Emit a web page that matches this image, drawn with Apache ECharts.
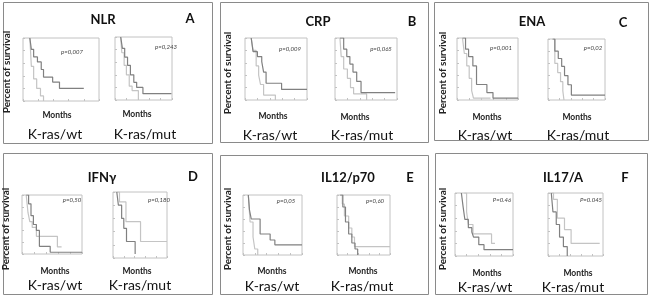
<!DOCTYPE html>
<html>
<head>
<meta charset="utf-8">
<script src="https://cdn.jsdelivr.net/npm/echarts@6/dist/echarts.min.js"></script>
<style>
  html, body { margin: 0; padding: 0; background: #fff; }
  #chart { width: 650px; height: 295px; }
</style>
</head>
<body>
<div id="chart"></div>
<script>
// Données : [mois (échelle 0-100), % de survie]
const nlrWtDark = [[9,100],[11,82],[14,70],[19,62],[24,50],[27,38],[39,30],[48,20],[80,20]];
const nlrWtLight = [[9,100],[11,55],[14,35],[18,20],[23,8],[27,0]];
const nlrMutDark = [[10,100],[13,82],[17,68],[22,55],[27,40],[33,28],[38,20],[49,10],[99,10]];
const nlrMutLight = [[10,100],[12,75],[16,55],[20,40],[25,22],[30,15],[41,0]];

const crpWtDark = [[10,100],[13,78],[20,70],[27,62],[30,45],[34,27],[59,17],[100,17]];
const crpWtLight = [[10,100],[13,80],[18,55],[22,40],[25,25],[30,8],[49,0]];
const crpMutDark = [[8,100],[14,82],[19,70],[24,58],[29,45],[35,30],[42,12],[97,12]];
const crpMutLight = [[8,100],[10,70],[14,50],[20,35],[25,20],[30,10],[51,0]];

const enaWtDark = [[9,100],[14,82],[19,70],[26,55],[32,25],[49,12],[59,3],[100,3]];
const enaWtLight = [[9,100],[12,75],[16,55],[20,35],[24,15],[27,3],[55,3]];
const enaMutDark = [[8,100],[12,80],[18,68],[24,55],[29,40],[35,25],[41,8],[100,8]];
const enaMutLight = [[8,100],[12,60],[17,45],[22,30],[26,15],[28,0]];

const ifnWtDark = [[7,100],[11,85],[15,65],[19,50],[24,40],[29,13],[47,3],[100,3]];
const ifnWtLight = [[7,100],[10,70],[13,55],[17,45],[24,30],[59,12],[66,12]];
const ifnMutDark = [[7,100],[10,80],[16,60],[20,45],[25,25],[41,6]];
const ifnMutLight = [[7,100],[12,85],[24,55],[51,25],[100,25]];

const il12WtDark = [[9,100],[11,75],[14,60],[29,35],[46,25],[54,17],[100,17]];
const il12WtLight = [[9,100],[12,55],[17,30],[20,10],[25,0]];
const il12MutDark = [[6,100],[11,80],[16,55],[22,35],[28,20],[34,10],[39,0]];
const il12MutLight = [[6,100],[10,85],[14,65],[22,45],[28,30],[33,14],[100,14]];

const il17WtDark = [[11,100],[14,78],[17,58],[23,45],[29,38],[32,30],[41,18],[50,10],[100,10]];
const il17WtLight = [[16,100],[20,70],[23,50],[31,35],[63,20],[69,20]];
const il17MutDark = [[6,100],[9,70],[15,50],[21,30],[28,15],[35,0]];
const il17MutLight = [[6,100],[10,90],[17,60],[30,42],[42,20],[94,20]];

const panelTitles = ['NLR', 'CRP', 'ENA', 'IFNγ', 'IL12/p70', 'IL17/A'];
const panelLetters = ['A', 'B', 'C', 'D', 'E', 'F'];
const pValues = [
    ['p=0,007', 'p=0,243'],
    ['p=0,009', 'p=0,065'],
    ['p=0,001', 'p=0,02'],
    ['p=0,50', 'p=0,180'],
    ['p=0,05', 'p=0,60'],
    ['P=0.46', 'P=0.045']
];
const groupLabels = ['K-ras/wt', 'K-ras/mut'];

const curves = [
    [[nlrWtDark, nlrWtLight], [nlrMutDark, nlrMutLight]],
    [[crpWtDark, crpWtLight], [crpMutDark, crpMutLight]],
    [[enaWtDark, enaWtLight], [enaMutDark, enaMutLight]],
    [[ifnWtDark, ifnWtLight], [ifnMutDark, ifnMutLight]],
    [[il12WtDark, il12WtLight], [il12MutDark, il12MutLight]],
    [[il17WtDark, il17WtLight], [il17MutDark, il17MutLight]]
];

// --- Mise en page (pixels) ---
const layout = [
    { border: [3, 2, 209, 141], title: [103, 20], letter: [190, 19], ylab: [7, 72],
      plots: [[23, 38, 76, 63], [115, 37, 57, 63]], pv: [[72, 52], [166, 47]],
      months: [[57, 115], [137, 114]], groups: [[55, 134], [145, 134]] },
    { border: [220, 2, 208, 140], title: [318, 22], letter: [412, 22], ylab: [228, 73],
      plots: [[245, 38, 62, 62], [335, 38, 62, 62]], pv: [[290, 49], [381, 49]],
      months: [[273, 116], [355, 117]], groups: [[270, 135], [362, 135]] },
    { border: [434, 2, 214, 138], title: [532, 22], letter: [623, 23], ylab: [443, 73],
      plots: [[457, 38, 61, 62], [548, 39, 57, 61]], pv: [[501, 48], [593, 48]],
      months: [[487, 117], [577, 117]], groups: [[485, 135], [578, 135]] },
    { border: [3, 153, 209, 141], title: [102, 178], letter: [193, 177], ylab: [6, 229],
      plots: [[22, 195, 60, 59], [113, 192, 54, 66]], pv: [[72, 200], [159, 200]],
      months: [[55, 271], [137, 271]], groups: [[55, 285], [140, 285]] },
    { border: [220, 155, 208, 139], title: [348, 178], letter: [410, 178], ylab: [228, 229],
      plots: [[243, 195, 59, 60], [337, 195, 53, 60]], pv: [[286, 201], [375, 201]],
      months: [[272, 271], [363, 271]], groups: [[272, 286], [362, 286]] },
    { border: [435, 153, 212, 141], title: [563, 178], letter: [625, 178], ylab: [443, 229],
      plots: [[455, 193, 58, 63], [548, 193, 55, 63]], pv: [[502, 200], [591, 200]],
      months: [[487, 273], [578, 273]], groups: [[485, 287], [573, 287]] }
];

const FONT = 'Lato, "Open Sans", sans-serif';
const DARK = '#808080';
const LIGHT = '#c4c4c4';

const grids = [], xAxes = [], yAxes = [], series = [], graphics = [];

function text(str, x, y, font, fill, extra) {
    graphics.push(Object.assign({
        type: 'text', x: x, y: y,
        style: { text: str, font: font, fill: fill || '#111', align: 'center', verticalAlign: 'middle' }
    }, extra || {}));
}

layout.forEach((p, i) => {
    const b = p.border;
    graphics.push({
        type: 'rect',
        shape: { x: b[0] + 0.5, y: b[1] + 0.5, width: b[2], height: b[3] },
        style: { fill: 'none', stroke: '#8a8a8a', lineWidth: 1 }
    });
    text(panelTitles[i], p.title[0], p.title[1], 'bold 13px ' + FONT);
    text(panelLetters[i], p.letter[0], p.letter[1], 'bold 13px ' + FONT);
    text('Percent of survival', p.ylab[0], p.ylab[1], 'bold 10px ' + FONT, '#222', { rotation: Math.PI / 2 });

    p.plots.forEach((r, j) => {
        const idx = grids.length;
        grids.push({
            left: r[0], top: r[1], width: r[2], height: r[3],
            show: true, borderColor: '#c2c2c2', borderWidth: 1, backgroundColor: 'transparent'
        });
        xAxes.push({
            type: 'value', gridIndex: idx, min: 0, max: 100, interval: 20,
            axisLabel: { show: false }, axisLine: { show: false }, splitLine: { show: false },
            axisTick: { show: true, inside: true, length: 2, lineStyle: { color: '#c2c2c2' } }
        });
        yAxes.push({
            type: 'value', gridIndex: idx, min: 0, max: 100, interval: 20,
            axisLabel: { show: false }, axisLine: { show: false }, splitLine: { show: false },
            axisTick: { show: true, inside: true, length: 2, lineStyle: { color: '#c2c2c2' } }
        });
        [DARK, LIGHT].forEach((color, k) => {
            series.push({
                type: 'line', xAxisIndex: idx, yAxisIndex: idx, step: 'end',
                data: curves[i][j][k], symbol: 'none', silent: true,
                lineStyle: { color: color, width: 1.2 }, z: k === 0 ? 3 : 2
            });
        });
        text(pValues[i][j], p.pv[j][0], p.pv[j][1], 'italic 6px ' + FONT, '#444');
        text('Months', p.months[j][0], p.months[j][1], 'bold 8.5px ' + FONT, '#222');
        text(groupLabels[j], p.groups[j][0], p.groups[j][1], '14px ' + FONT);
    });
});

const chart = echarts.init(document.getElementById('chart'), null, { renderer: 'canvas' });
chart.setOption({
    animation: false,
    grid: grids,
    xAxis: xAxes,
    yAxis: yAxes,
    series: series,
    graphic: graphics
});

window.addEventListener('resize', function () {
    chart.resize();
});
</script>
</body>
</html>
